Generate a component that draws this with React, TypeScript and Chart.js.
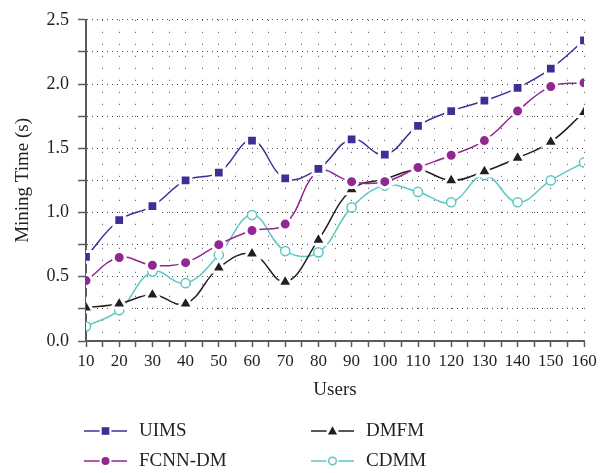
import React, { useEffect, useRef } from 'react';
import { Chart, registerables } from 'chart.js';

Chart.register(...registerables);

const users = [10, 20, 30, 40, 50, 60, 70, 80, 90, 100, 110, 120, 130, 140, 150, 160];
const uims = [0.655, 0.94, 1.05, 1.25, 1.31, 1.56, 1.265, 1.34, 1.57, 1.45, 1.675, 1.79, 1.87, 1.97, 2.12, 2.34];
const fcnnDm = [0.47, 0.65, 0.59, 0.61, 0.75, 0.86, 0.91, 1.32, 1.24, 1.24, 1.35, 1.446, 1.56, 1.79, 1.98, 2.01];
const dmfm = [0.26, 0.29, 0.36, 0.29, 0.57, 0.68, 0.46, 0.787, 1.18, 1.26, 1.33, 1.25, 1.32, 1.425, 1.55, 1.78];
const cdmm = [0.114, 0.24, 0.54, 0.45, 0.67, 0.98, 0.70, 0.69, 1.04, 1.21, 1.16, 1.08, 1.29, 1.08, 1.25, 1.39];

const seriesNames = ['UIMS', 'FCNN-DM', 'DMFM', 'CDMM'];
const yTickLabels = ['0.0', '0.5', '1.0', '1.5', '2.0', '2.5'];
const xTitle = 'Users';
const yTitle = 'Mining Time (s)';

const FONT = "'Liberation Serif', 'Times New Roman', serif";
const TEXT = '#231f20';
const AXIS = '#5a5a5c';
const COLORS = ['#3b3095', '#92278f', '#231f20', '#5fc7c3'];

function drawMarker(ctx: CanvasRenderingContext2D, kind: number, x: number, y: number, color: string) {
  ctx.save();
  ctx.fillStyle = '#ffffff';
  ctx.beginPath();
  ctx.arc(x, y, 6, 0, Math.PI * 2);
  ctx.fill();
  ctx.fillStyle = color;
  ctx.strokeStyle = color;
  ctx.beginPath();
  if (kind === 0) {
    ctx.rect(x - 3.8, y - 3.8, 7.6, 7.6);
    ctx.fill();
  } else if (kind === 1) {
    ctx.arc(x, y, 4, 0, Math.PI * 2);
    ctx.fill();
  } else if (kind === 2) {
    ctx.moveTo(x, y - 4.8);
    ctx.lineTo(x + 4.6, y + 3.4);
    ctx.lineTo(x - 4.6, y + 3.4);
    ctx.closePath();
    ctx.fill();
  } else {
    ctx.fillStyle = '#ffffff';
    ctx.lineWidth = 1.5;
    ctx.arc(x, y, 3.8, 0, Math.PI * 2);
    ctx.fill();
    ctx.stroke();
  }
  ctx.restore();
}

const legendPlugin = {
  id: 'customLegend',
  afterDraw(chart: any) {
    const ctx: CanvasRenderingContext2D = chart.ctx;
    const slots = [
      { ds: 0, x: 84, y: 431 },
      { ds: 2, x: 311, y: 431 },
      { ds: 1, x: 84, y: 461 },
      { ds: 3, x: 311, y: 461 },
    ];
    ctx.save();
    slots.forEach((s) => {
      const ds = chart.data.datasets[s.ds];
      const color = ds.borderColor as string;
      ctx.strokeStyle = color;
      ctx.lineWidth = 1.5;
      ctx.beginPath();
      ctx.moveTo(s.x, s.y);
      ctx.lineTo(s.x + 43, s.y);
      ctx.stroke();
      drawMarker(ctx, s.ds, s.x + 21.5, s.y, color);
      ctx.fillStyle = TEXT;
      ctx.font = `19px ${FONT}`;
      ctx.textAlign = 'left';
      ctx.textBaseline = 'middle';
      ctx.fillText(ds.label, s.x + 55, s.y);
    });
    ctx.restore();
  },
};

export default function App() {
  const canvasRef = useRef<HTMLCanvasElement | null>(null);

  useEffect(() => {
    if (!canvasRef.current) return;
    const common = {
      fill: false,
      tension: 0.4,
      borderWidth: 1.5,
      pointHoverRadius: 0,
    };
    const chart = new Chart(canvasRef.current, {
      type: 'line',
      data: {
        datasets: [
          {
            ...common,
            label: seriesNames[0],
            data: users.map((u, i) => ({ x: u, y: uims[i] })),
            borderColor: COLORS[0],
            pointStyle: 'rect',
            pointRadius: 7.6,
            pointBackgroundColor: COLORS[0],
            pointBorderColor: '#ffffff',
            pointBorderWidth: 3,
          },
          {
            ...common,
            label: seriesNames[1],
            data: users.map((u, i) => ({ x: u, y: fcnnDm[i] })),
            borderColor: COLORS[1],
            pointStyle: 'circle',
            pointRadius: 6,
            pointBackgroundColor: COLORS[1],
            pointBorderColor: '#ffffff',
            pointBorderWidth: 3,
          },
          {
            ...common,
            label: seriesNames[2],
            data: users.map((u, i) => ({ x: u, y: dmfm[i] })),
            borderColor: COLORS[2],
            pointStyle: 'triangle',
            pointRadius: 8.6,
            pointBackgroundColor: COLORS[2],
            pointBorderColor: '#ffffff',
            pointBorderWidth: 3,
          },
          {
            ...common,
            label: seriesNames[3],
            data: users.map((u, i) => ({ x: u, y: cdmm[i] })),
            borderColor: COLORS[3],
            pointStyle: 'circle',
            pointRadius: 4.6,
            pointBackgroundColor: '#ffffff',
            pointBorderColor: COLORS[3],
            pointBorderWidth: 1.5,
          },
        ],
      },
      options: {
        animation: false,
        responsive: false,
        maintainAspectRatio: false,
        events: [],
        layout: { padding: { top: 13, right: 23, bottom: 70, left: 0 } },
        plugins: {
          legend: { display: false },
          tooltip: { enabled: false },
        },
        scales: {
          x: {
            type: 'linear',
            min: 10,
            max: 160,
            ticks: {
              stepSize: 5,
              autoSkip: false,
              maxRotation: 0,
              font: { family: FONT, size: 17 },
              color: TEXT,
              padding: 4,
              callback: (v: any) => (Number(v) % 10 === 0 ? String(v) : ''),
            },
            grid: {
              color: '#4a4a4a',
              lineWidth: 1,
              tickLength: 6,
              tickColor: AXIS,
              tickWidth: 1.5,
            },
            border: { color: AXIS, width: 2, dash: [1, 11] },
            title: {
              display: true,
              text: xTitle,
              color: TEXT,
              font: { family: FONT, size: 19 },
              padding: { top: 0, bottom: 2 },
            },
            afterFit: (s: any) => {
              s.height = 62;
            },
          },
          y: {
            type: 'linear',
            min: 0,
            max: 2.5,
            ticks: {
              stepSize: 0.25,
              autoSkip: false,
              font: { family: FONT, size: 18 },
              color: TEXT,
              padding: 9,
              callback: (v: any) => {
                const n = Number(v) * 2;
                return Math.abs(n - Math.round(n)) < 1e-6 ? yTickLabels[Math.round(n)] : '';
              },
            },
            grid: {
              color: '#4a4a4a',
              lineWidth: 1,
              tickLength: 8,
              tickColor: AXIS,
              tickWidth: 1.5,
            },
            border: { color: AXIS, width: 2, dash: [1, 4] },
            title: {
              display: true,
              text: yTitle,
              color: TEXT,
              font: { family: FONT, size: 19 },
              padding: { top: 12, bottom: 0 },
            },
            afterFit: (s: any) => {
              s.width = 86;
            },
          },
        },
      },
      plugins: [legendPlugin],
    } as any);
    return () => chart.destroy();
  }, []);

  return (
    <div style={{ position: 'fixed', left: 0, top: 0, width: 607, height: 473, background: '#ffffff' }}>
      <canvas ref={canvasRef} width={607} height={473} style={{ width: 607, height: 473, display: 'block' }} />
    </div>
  );
}
